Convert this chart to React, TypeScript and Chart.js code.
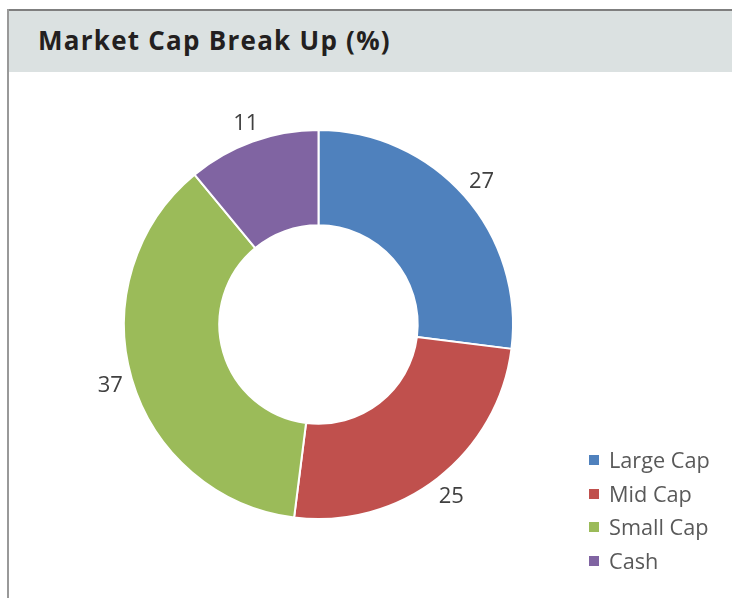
import React, { useEffect, useRef } from "react";
import { Chart, registerables } from "chart.js";

Chart.register(...registerables);

const categories = ["Large Cap", "Mid Cap", "Small Cap", "Cash"];
const values = [27, 25, 37, 11];
const colors = ["#4f81bd", "#c0504d", "#9bbb59", "#8064a2"];
const titleText = "Market Cap Break Up (%)";

const labelPlugin = {
  id: "outsideLabels",
  afterDatasetsDraw(chart: any) {
    const ctx = chart.ctx;
    const meta = chart.getDatasetMeta(0);
    ctx.save();
    ctx.font = "22px 'Open Sans'";
    ctx.fillStyle = "#404040";
    ctx.textAlign = "center";
    ctx.textBaseline = "middle";
    meta.data.forEach((arc: any, i: number) => {
      const { x, y, startAngle, endAngle, outerRadius } = arc.getProps(
        ["x", "y", "startAngle", "endAngle", "outerRadius"],
        true
      );
      const mid = (startAngle + endAngle) / 2;
      const txt = String(values[i]);
      const hw = ctx.measureText(txt).width / 2;
      const hh = 8.3;
      const d = outerRadius + 8 + Math.abs(Math.cos(mid)) * hw + Math.abs(Math.sin(mid)) * hh;
      ctx.fillText(txt, x + Math.cos(mid) * d, y + Math.sin(mid) * d + 1);
    });
    ctx.restore();
  },
};

export default function App() {
  const ref = useRef<HTMLCanvasElement>(null);
  useEffect(() => {
    if (!ref.current) return;
    const chart = new Chart(ref.current, {
      type: "doughnut",
      data: {
        labels: categories,
        datasets: [
          {
            data: values,
            backgroundColor: colors,
            borderColor: "#ffffff",
            borderWidth: 2,
          },
        ],
      },
      options: {
        animation: false,
        responsive: false,
        maintainAspectRatio: false,
        cutout: "51%",
        layout: { padding: { left: 115, top: 57, right: 218, bottom: 78 } },
        plugins: { legend: { display: false }, tooltip: { enabled: false } },
      },
      plugins: [labelPlugin],
    });
    return () => chart.destroy();
  }, []);

  return (
    <div style={{ position: "absolute", left: 0, top: 0, width: 732, height: 598, background: "#fff", overflow: "hidden" }}>
      <div
        style={{
          position: "absolute",
          left: 7,
          top: 9,
          width: 725,
          height: 63,
          background: "#dbe1e1",
          borderTop: "2px solid #7f7f7f",
          boxSizing: "border-box",
        }}
      />
      <div style={{ position: "absolute", left: 7, top: 9, width: 2, height: 589, background: "#999" }} />
      <div
        style={{
          position: "absolute",
          left: 38,
          top: 22,
          fontFamily: "'Open Sans', sans-serif",
          fontWeight: 700,
          fontSize: 26,
          letterSpacing: 1.25,
          lineHeight: "36px",
          color: "#231f20",
          whiteSpace: "nowrap",
        }}
      >
        {titleText}
      </div>
      <canvas ref={ref} width={724} height={526} style={{ position: "absolute", left: 8, top: 72 }} />
      <div style={{ position: "absolute", left: 589, top: 443 }}>
        {categories.map((c, i) => (
          <div key={c} style={{ display: "flex", alignItems: "center", height: 33.7 }}>
            <div style={{ width: 10, height: 10, background: colors[i], marginRight: 10 }} />
            <span style={{ fontFamily: "'Open Sans', sans-serif", fontSize: 21.7, color: "#595959", lineHeight: "28px" }}>{c}</span>
          </div>
        ))}
      </div>
    </div>
  );
}
